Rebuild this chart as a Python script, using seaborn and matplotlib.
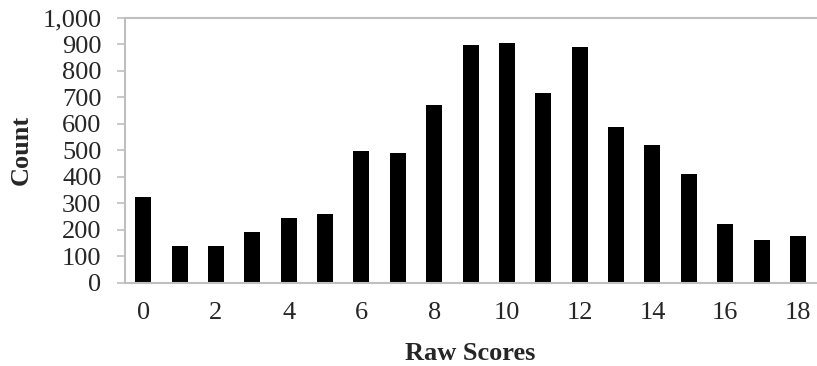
import numpy as np
import pandas as pd
import matplotlib
matplotlib.use("Agg")
import matplotlib.pyplot as plt
from matplotlib.ticker import FuncFormatter, FixedLocator
import seaborn as sns

raw_scores = list(range(19))
counts = [326, 138, 138, 191, 244, 259, 499, 492, 672, 898, 906, 717, 889, 589, 522, 410, 221, 162, 176]
tick_labels = [str(s) if s % 2 == 0 else "" for s in raw_scores]

sns.set_style("white")
plt.rcParams["font.family"] = ["Liberation Serif", "DejaVu Serif"]

df = pd.DataFrame({"score": raw_scores, "count": counts})

fig = plt.figure(figsize=(8.17, 3.66), dpi=100)
ax = fig.add_axes([0.153, 0.227, 0.846, 0.724])
sns.barplot(data=df, x="score", y="count", color="black", saturation=1,
            width=0.44, linewidth=0, ax=ax)

grey = "#bfbfbf"
ax.set_xlim(-0.5, len(raw_scores) - 0.5)
ax.set_ylim(0, 1000)
ax.yaxis.set_major_locator(FixedLocator(np.arange(0, 1001, 100)))
ax.yaxis.set_major_formatter(FuncFormatter(lambda v, p: f"{int(v):,}"))

# labels at category centres, tick marks at category boundaries
ax.set_xticks(raw_scores)
ax.set_xticklabels(tick_labels)
ax.set_xticks(np.arange(-0.5, len(raw_scores), 1.0), minor=True)
ax.tick_params(axis="x", which="major", length=0, labelsize=19, pad=14)
ax.tick_params(axis="x", which="minor", length=5, width=1.2, color=grey, direction="out")
ax.tick_params(axis="y", length=6, width=1.2, color=grey, direction="out",
               labelsize=19, pad=11, left=True)

for side in ["left", "bottom", "top"]:
    ax.spines[side].set_color(grey)
    ax.spines[side].set_linewidth(1.5)
ax.spines["right"].set_visible(False)

ax.set_xlabel("Raw Scores", fontsize=19, fontweight="bold", labelpad=13)
ax.set_ylabel("Count", fontsize=19, fontweight="bold", labelpad=7)

fig.savefig("out.png", dpi=100)
